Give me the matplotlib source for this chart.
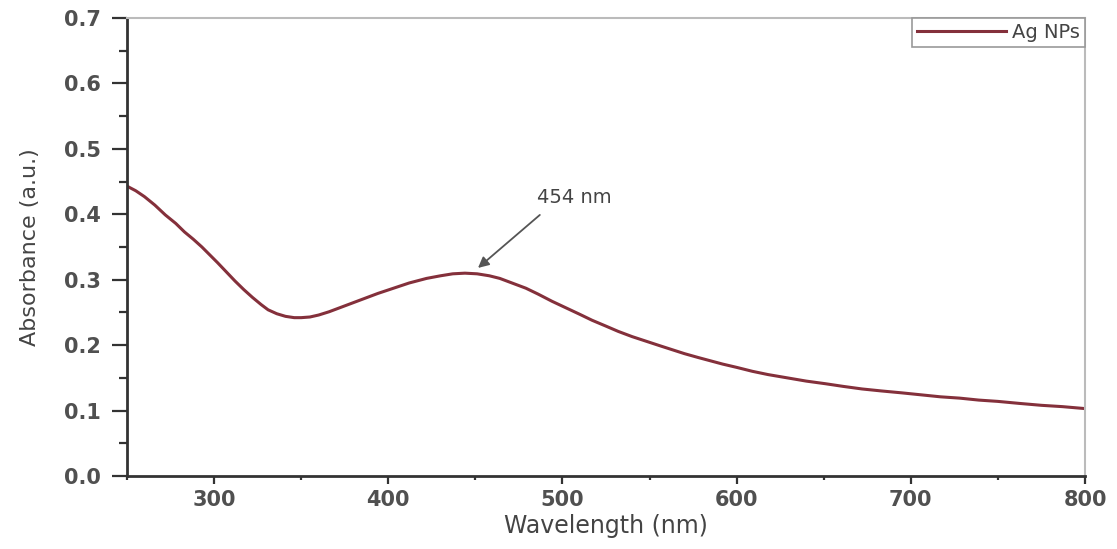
import matplotlib
matplotlib.use("Agg")
import matplotlib.pyplot as plt
from matplotlib.ticker import MultipleLocator, FormatStrFormatter

# UV-Vis spectrum of Ag NPs
wavelength = [250, 255, 260, 266, 272, 278, 283, 288, 293, 302, 307, 312, 317,
              322, 327, 331, 336, 341, 346, 350, 355, 360, 366, 373, 380, 386,
              394, 403, 412, 422, 430, 437, 444, 451, 458, 464, 471, 479, 486,
              494, 502, 510, 517, 525, 532, 540, 548, 556, 563, 570, 578, 585,
              592, 600, 609, 618, 629, 640, 651, 661, 672, 683, 695, 706, 717,
              728, 739, 750, 762, 775, 787, 800]
absorbance = [0.443, 0.436, 0.427, 0.414, 0.399, 0.386, 0.373, 0.362, 0.350,
              0.326, 0.312, 0.298, 0.285, 0.273, 0.262, 0.254, 0.248, 0.244,
              0.242, 0.242, 0.243, 0.246, 0.251, 0.258, 0.265, 0.271, 0.279,
              0.287, 0.295, 0.302, 0.306, 0.309, 0.310, 0.309, 0.306, 0.302,
              0.295, 0.287, 0.278, 0.267, 0.257, 0.247, 0.238, 0.229, 0.221,
              0.213, 0.206, 0.199, 0.193, 0.187, 0.181, 0.176, 0.171, 0.166,
              0.160, 0.155, 0.150, 0.145, 0.141, 0.137, 0.133, 0.130, 0.127,
              0.124, 0.121, 0.119, 0.116, 0.114, 0.111, 0.108, 0.106, 0.103]
series_label = "Ag NPs"
peak_label = "454 nm"
peak_tip = (451.5, 0.318)
peak_tail = (487, 0.399)
peak_text = (506.6, 0.426)

plt.rcParams['font.family'] = ['DejaVu Sans']

fig = plt.figure(figsize=(11.17, 5.49), dpi=100)
ax = fig.add_axes([0.1137, 0.133, 0.8577, 0.8342])

ax.plot(wavelength, absorbance, color='#84303b', lw=2.2, label=series_label,
        solid_joinstyle='round')

ax.set_xlim(250, 800)
ax.set_ylim(0, 0.7)
ax.xaxis.set_major_locator(MultipleLocator(100))
ax.xaxis.set_minor_locator(MultipleLocator(50))
ax.yaxis.set_major_locator(MultipleLocator(0.1))
ax.yaxis.set_minor_locator(MultipleLocator(0.05))
ax.yaxis.set_major_formatter(FormatStrFormatter('%.1f'))

for side in ('left', 'bottom'):
    ax.spines[side].set_color('#333333')
    ax.spines[side].set_linewidth(2)
for side in ('top', 'right'):
    ax.spines[side].set_color('#bbbbbb')
    ax.spines[side].set_linewidth(1.5)

ax.tick_params(axis='y', which='major', direction='out', length=11, width=1.6,
               color='#333333', labelsize=15, labelcolor='#505050', pad=8)
ax.tick_params(axis='y', which='minor', direction='out', length=6, width=1.6,
               color='#333333')
ax.tick_params(axis='x', which='major', direction='out', length=6, width=1.6,
               color='#333333', labelsize=15, labelcolor='#505050', pad=4)
ax.tick_params(axis='x', which='minor', direction='out', length=3, width=1.6,
               color='#333333')
for lab in ax.get_xticklabels() + ax.get_yticklabels():
    lab.set_fontweight('bold')

ax.set_xlabel("Wavelength (nm)", fontsize=17, color='#444444')
ax.set_ylabel("Absorbance (a.u.)", fontsize=16, color='#444444')
ax.xaxis.set_label_coords(0.5, -0.083)
ax.yaxis.set_label_coords(-0.091, 0.5)

ax.annotate('', xy=peak_tip, xytext=peak_tail,
            arrowprops=dict(arrowstyle='-|>', color='#555555', lw=1.3,
                            mutation_scale=16, shrinkA=0, shrinkB=0))
ax.text(peak_text[0], peak_text[1], peak_label, ha='center', va='center',
        fontsize=14, color='#444444')

leg = ax.legend(loc='upper right', borderaxespad=0, fancybox=False,
                fontsize=14, handlelength=4.6, handletextpad=0.3,
                borderpad=0.25, framealpha=1)
leg.get_frame().set_edgecolor('#999999')
leg.get_frame().set_linewidth(1.2)
for t in leg.get_texts():
    t.set_color('#444444')

fig.savefig("out.png", dpi=100)
